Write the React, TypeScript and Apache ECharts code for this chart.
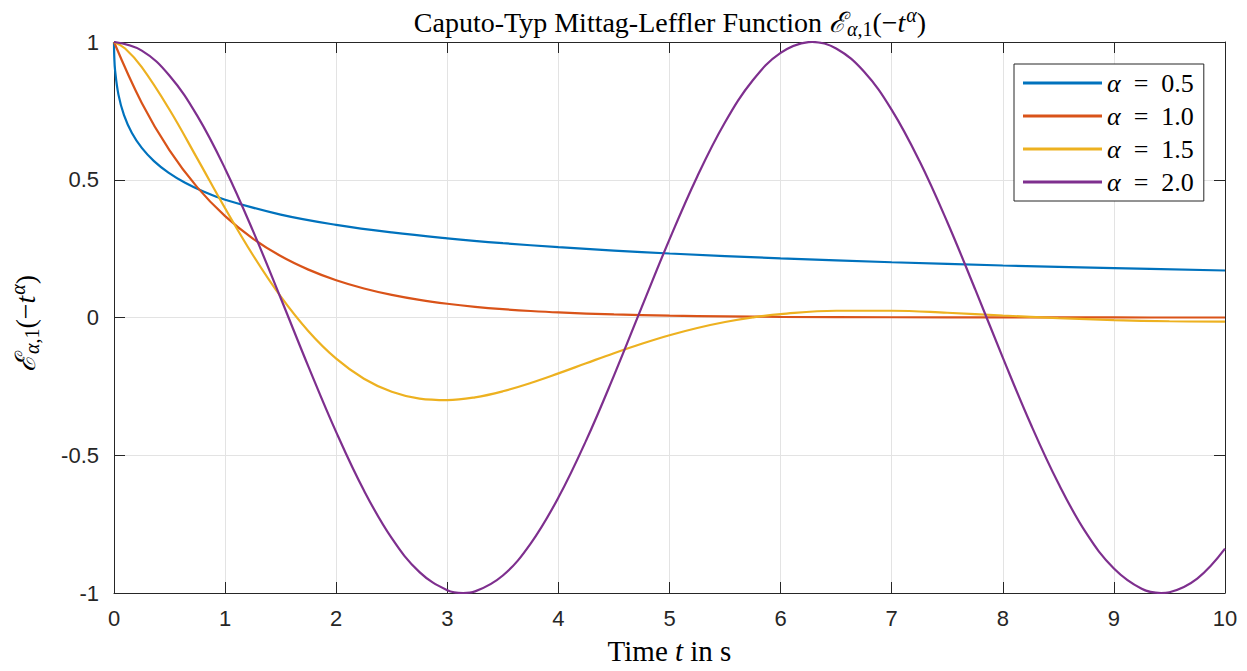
import React, { useEffect, useRef } from 'react';
import * as echarts from 'echarts';

// ---- data ----
const seriesNames = ['α = 0.5', 'α = 1.0', 'α = 1.5', 'α = 2.0'];
const seriesColors = ['#0072BD', '#D95319', '#EDB120', '#7E2F8E'];

const tA05 = [0, 0.0025, 0.01, 0.04, 0.09, 0.16, 0.25, 0.36, 0.49, 0.64, 0.81, 1, 1.5, 2, 2.5, 3, 3.5, 4, 4.5, 5, 6, 7, 8, 9, 10];
const yA05 = [1, 0.946, 0.8965, 0.809, 0.7346, 0.6708, 0.6157, 0.5678, 0.5259, 0.4891, 0.4565, 0.4276, 0.3733, 0.3362, 0.3087, 0.2875, 0.2699, 0.2554, 0.243, 0.2323, 0.2146, 0.2005, 0.1888, 0.179, 0.1706];

const tA10 = [0, 0.25, 0.5, 0.75, 1, 1.25, 1.5, 1.75, 2, 2.25, 2.5, 2.75, 3, 3.25, 3.5, 3.75, 4, 4.5, 5, 5.5, 6, 7, 8, 9, 10];
const yA10 = [1, 0.7788, 0.6065, 0.4724, 0.3679, 0.2865, 0.2231, 0.1738, 0.1353, 0.1054, 0.0821, 0.0639, 0.0498, 0.0388, 0.0302, 0.0235, 0.0183, 0.0111, 0.0067, 0.0041, 0.0025, 0.0009, 0.0003, 0.0001, 0.0];

const tA15 = [0, 0.1, 0.25, 0.5, 0.75, 1, 1.25, 1.5, 1.75, 2, 2.25, 2.5, 2.75, 3, 3.25, 3.5, 3.75, 4, 4.25, 4.5, 4.75, 5, 5.25, 5.5, 5.75, 6, 6.5, 7, 7.5, 8, 8.5, 9, 9.5, 10];
const yA15 = [1, 0.9762, 0.9085, 0.7541, 0.5767, 0.3966, 0.227, 0.0765, -0.0497, -0.1494, -0.2222, -0.2697, -0.2945, -0.2999, -0.2898, -0.2678, -0.2378, -0.2028, -0.166, -0.1295, -0.0953, -0.0644, -0.038, -0.0163, 0.0005, 0.0125, 0.0245, 0.0245, 0.0172, 0.0072, -0.0022, -0.0095, -0.0137, -0.0153];

const tA20 = [0, 0.25, 0.5, 0.75, 1, 1.25, 1.5, 1.75, 2, 2.25, 2.5, 2.75, 3, 3.1416, 3.25, 3.5, 3.75, 4, 4.25, 4.5, 4.75, 5, 5.25, 5.5, 5.75, 6, 6.25, 6.2832, 6.5, 6.75, 7, 7.25, 7.5, 7.75, 8, 8.25, 8.5, 8.75, 9, 9.25, 9.4248, 9.5, 9.75, 10];
const yA20 = [1, 0.9689, 0.8776, 0.7317, 0.5403, 0.3153, 0.0707, -0.1782, -0.4161, -0.6282, -0.8011, -0.9243, -0.99, -1, -0.9941, -0.9365, -0.8206, -0.6536, -0.4461, -0.2108, 0.0376, 0.2837, 0.5121, 0.7087, 0.8612, 0.9602, 0.9994, 1, 0.9766, 0.893, 0.7539, 0.5679, 0.3466, 0.1036, -0.1455, -0.3858, -0.602, -0.782, -0.9111, -0.9848, -1, -0.9972, -0.9477, -0.8391];

const xTickLabels = ['0', '1', '2', '3', '4', '5', '6', '7', '8', '9', '10'];
const yTickLabels: Record<string, string> = { '-1': '-1', '-0.5': '-0.5', '0': '0', '0.5': '0.5', '1': '1' };

const seriesT = [tA05, tA10, tA15, tA20];
const seriesY = [yA05, yA10, yA15, yA20];

const SERIF = '"Liberation Serif", "DejaVu Serif", serif';
const SANS = '"Liberation Sans", Arial, Helvetica, sans-serif';
const AX = '#262626';

const mathRich = (size: number) => {
  const base = { fontFamily: SERIF, fontWeight: 'normal', color: '#000' };
  const small = Math.round(size * 0.7);
  return {
    n: { ...base, fontSize: size },
    e: { ...base, fontSize: size, fontStyle: 'italic' },
    it: { ...base, fontSize: size, fontStyle: 'italic' },
    sa: { ...base, fontSize: small, fontStyle: 'italic', padding: [Math.round(size * 0.45), 0, 0, 1] },
    sn: { ...base, fontSize: small, padding: [Math.round(size * 0.45), 0, 0, 0] },
    sup: { ...base, fontSize: small, fontStyle: 'italic', padding: [0, 0, Math.round(size * 0.5), 1] },
  };
};
const mathExpr = '{e|ℰ}{sa|α}{sn|,1}{n|(−}{it|t}{sup|α}{n|)}';

export default function App() {
  const ref = useRef<HTMLDivElement>(null);
  useEffect(() => {
    if (!ref.current) return;
    const chart = echarts.init(ref.current, undefined, { renderer: 'svg' });
    const gridLeft = 110, gridTop = 42, gridW = 1115, gridH = 551;
    const xCommon = {
      type: 'value' as const, min: 0, max: 10, interval: 1,
      axisLine: { show: true, onZero: false, lineStyle: { color: AX, width: 1 } },
      axisTick: { show: true, inside: true, length: 11, lineStyle: { color: AX, width: 1 } },
    };
    const yCommon = {
      type: 'value' as const, min: -1, max: 1, interval: 0.5,
      axisLine: { show: true, onZero: false, lineStyle: { color: AX, width: 1 } },
      axisTick: { show: true, inside: true, length: 11, lineStyle: { color: AX, width: 1 } },
    };
    const option: any = {
      animation: false,
      backgroundColor: '#fff',
      title: {
        text: '{n|Caputo-Typ Mittag-Leffler Function }' + mathExpr,
        left: 665, top: 0, textAlign: 'center',
        textStyle: { fontWeight: 'normal', rich: mathRich(28) },
      },
      legend: {
        orient: 'vertical', left: 1014, top: 64,
        backgroundColor: '#fff', borderColor: AX, borderWidth: 1,
        padding: [6, 10, 6, 9], itemGap: 7, itemWidth: 79, itemHeight: 3,
        icon: 'rect',
        data: seriesNames,
        formatter: (name: string) => {
          const v = name.split('=')[1].trim();
          return '{a|α}{b|\u2002=\u2002' + v + '}';
        },
        textStyle: {
          lineHeight: 26,
          padding: [0, 0, 0, 0],
          rich: {
            a: { fontFamily: SERIF, fontSize: 26, fontStyle: 'italic', color: '#000', lineHeight: 26 },
            b: { fontFamily: SERIF, fontSize: 26, color: '#000', lineHeight: 26 },
          },
        },
      },
      grid: { left: gridLeft, top: gridTop, width: gridW, height: gridH, show: false },
      xAxis: [
        {
          ...xCommon, position: 'bottom',
          name: '{n|Time }{it|t}{n| in s}', nameLocation: 'middle', nameGap: 43,
          nameTextStyle: { rich: mathRich(29) },
          axisLabel: { show: true, margin: 14, fontFamily: SANS, fontSize: 22, color: AX, formatter: (v: number) => xTickLabels[Math.round(v)] },
          splitLine: { show: true, lineStyle: { color: '#e3e3e3', width: 1 } },
        },
        { ...xCommon, position: 'top', axisLabel: { show: false }, splitLine: { show: false } },
      ],
      yAxis: [
        {
          ...yCommon, position: 'left',
          name: mathExpr, nameLocation: 'middle', nameGap: 72, nameRotate: 90,
          nameTextStyle: { rich: mathRich(28), padding: [0, 12, 0, 0] },
          axisLabel: { show: true, margin: 15, fontFamily: SANS, fontSize: 22, color: AX, formatter: (v: number) => yTickLabels[String(v)] ?? String(v) },
          splitLine: { show: true, lineStyle: { color: '#e3e3e3', width: 1 } },
        },
        { ...yCommon, position: 'right', axisLabel: { show: false }, splitLine: { show: false } },
      ],
      series: seriesNames.map((name, i) => ({
        name, type: 'line', xAxisIndex: 0, yAxisIndex: 0,
        data: seriesT[i].map((t, j) => [t, seriesY[i][j]]),
        smooth: 0.4,
        showSymbol: false, symbol: 'none',
        lineStyle: { color: seriesColors[i], width: 2.2 },
        itemStyle: { color: seriesColors[i] },
        z: 2 + i,
      })),
    };
    chart.setOption(option);
    return () => chart.dispose();
  }, []);
  return <div ref={ref} style={{ position: 'fixed', left: 0, top: 0, width: 1247, height: 671 }} />;
}
